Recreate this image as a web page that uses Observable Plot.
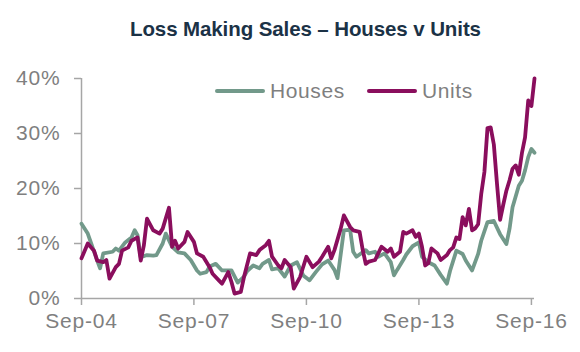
<!DOCTYPE html>
<html>
<head>
<meta charset="utf-8">
<script src="https://cdn.jsdelivr.net/npm/d3@7"></script>
<script src="https://cdn.jsdelivr.net/npm/@observablehq/plot@0.6"></script>
<style>
  html, body { margin: 0; padding: 0; background: #fff; }
  #wrap { position: relative; width: 580px; height: 352px; overflow: hidden; font-family: "Liberation Sans", Arial, sans-serif; }
  #title { position: absolute; left: 0; top: 0; width: 580px; height: 48px; }
  #title span { position: absolute; left: 130px; top: 18px; font-size: 20.5px; font-weight: bold; color: #1b3246; white-space: nowrap; line-height: 21px; letter-spacing: -0.1px; }
  #chart { position: absolute; left: 0; top: 48px; }
  .leg { position: absolute; top: 80px; height: 22px; display: flex; align-items: center; font-size: 21px; color: #7f7f7f; letter-spacing: 0.6px; }
  .leg i { display: inline-block; width: 50px; height: 4px; margin-right: 5px; border-radius: 2px; }
</style>
</head>
<body>
<div id="wrap">
  <div id="title"><span>Loss Making Sales – Houses v Units</span></div>
  <div id="chart"></div>
  <div class="leg" style="left:215px"><i style="background:#72998a"></i>Houses</div>
  <div class="leg" style="left:367px"><i style="background:#8a0e5d"></i>Units</div>
</div>
<script>
const seriesNames = ["Houses", "Units"];
const seriesColors = ["#72998a", "#8a0e5d"];

const houseDates = ["2004-09","2004-11","2005-02","2005-03","2005-04","2005-07","2005-08","2005-09","2005-11","2006-01","2006-02","2006-03","2006-04","2006-06","2006-08","2006-09","2006-11","2006-12","2007-02","2007-04","2007-06","2007-08","2007-10","2007-11","2008-01","2008-02","2008-04","2008-06","2008-09","2008-11","2009-01","2009-02","2009-04","2009-06","2009-07","2009-09","2009-10","2009-12","2010-02","2010-04","2010-06","2010-08","2010-10","2010-12","2011-02","2011-04","2011-06","2011-07","2011-08","2011-09","2011-11","2011-12","2012-01","2012-04","2012-05","2012-07","2012-08","2012-10","2012-12","2013-01","2013-02","2013-04","2013-05","2013-07","2013-09","2013-10","2013-12","2014-02","2014-04","2014-06","2014-07","2014-09","2014-11","2014-12","2015-02","2015-04","2015-05","2015-07","2015-09","2015-11","2016-01","2016-02","2016-03","2016-05","2016-06","2016-07","2016-08","2016-09","2016-10"];
const houseValues = [13.6,11.8,6.9,5.5,8.2,8.5,9.1,8.7,10.2,11.1,12.4,11.5,7.5,7.9,7.8,7.9,10.0,11.8,9.4,8.4,8.2,7.0,5.1,4.5,4.8,5.8,6.3,5.1,5.1,2.9,4.0,5.0,6.0,5.5,6.3,7.0,5.3,5.5,4.0,6.0,6.6,4.2,3.3,4.8,6.2,6.9,5.2,3.7,8.0,12.4,12.5,8.5,7.6,8.8,8.2,8.5,7.6,8.2,6.6,4.2,5.2,7.0,8.0,9.5,10.2,7.6,6.6,6.0,4.3,2.7,5.0,8.7,8.1,6.9,5.1,8.1,10.5,13.9,14.1,11.7,9.9,12.7,16.6,20.5,21.4,23.3,25.7,27.2,26.5];

const unitDates = ["2004-09","2004-11","2005-01","2005-02","2005-04","2005-05","2005-06","2005-08","2005-09","2005-10","2005-12","2006-01","2006-03","2006-04","2006-05","2006-06","2006-08","2006-10","2006-11","2007-01","2007-02","2007-03","2007-04","2007-06","2007-07","2007-09","2007-10","2007-12","2008-02","2008-03","2008-05","2008-06","2008-08","2008-09","2008-10","2008-12","2009-01","2009-03","2009-05","2009-06","2009-08","2009-09","2009-10","2009-12","2010-01","2010-02","2010-04","2010-05","2010-07","2010-09","2010-11","2011-01","2011-02","2011-04","2011-05","2011-06","2011-08","2011-09","2011-11","2011-12","2012-02","2012-03","2012-04","2012-05","2012-07","2012-08","2012-09","2012-11","2012-12","2013-01","2013-03","2013-04","2013-05","2013-07","2013-08","2013-09","2013-10","2013-11","2013-12","2014-01","2014-03","2014-04","2014-06","2014-07","2014-08","2014-09","2014-10","2014-11","2014-12","2015-01","2015-02","2015-03","2015-04","2015-05","2015-06","2015-07","2015-08","2015-09","2015-10","2015-11","2015-12","2016-01","2016-02","2016-03","2016-04","2016-05","2016-06","2016-07","2016-08","2016-09","2016-10"];
const unitValues = [7.3,10.0,8.7,6.9,6.6,7.0,3.6,5.7,6.3,8.7,9.3,10.5,11.1,6.9,9.6,14.5,12.4,11.8,12.7,16.5,9.4,10.5,9.1,10.3,12.1,10.3,8.2,7.6,5.7,4.5,3.3,2.7,4.8,3.0,0.9,1.2,3.9,8.2,7.9,8.8,9.7,10.5,7.6,6.0,5.5,7.0,5.7,1.8,3.9,7.6,5.7,6.7,7.6,9.4,7.3,8.8,12.7,15.1,13.0,12.4,12.1,9.0,6.3,6.7,7.0,8.2,9.4,8.5,9.1,7.6,8.5,12.1,11.8,12.4,11.2,11.8,9.4,6.0,6.4,9.1,8.2,7.0,7.9,8.8,9.3,11.1,10.8,14.8,13.3,16.3,12.4,12.7,13.5,19.0,23.0,31.0,31.1,28.0,21.0,14.3,17.0,19.6,21.5,23.6,24.2,22.5,26.5,29.3,36.0,35.0,40.0];

const yTicks = [0, 10, 20, 30, 40];
const xTickDates = ["2004-09","2007-09","2010-09","2013-09","2016-09"];
const xDomain = ["2004-09","2016-10"];

const parse = d3.utcParse("%Y-%m");
const houses = houseDates.map((d, i) => ({date: parse(d), value: houseValues[i], series: seriesNames[0]}));
const units = unitDates.map((d, i) => ({date: parse(d), value: unitValues[i], series: seriesNames[1]}));
const fmtX = d3.utcFormat("%b-%y");

const chart = Plot.plot({
  width: 580,
  height: 304,
  marginLeft: 81,
  marginRight: 46,
  marginTop: 30,
  marginBottom: 54,
  style: {fontFamily: "'Liberation Sans', Arial, sans-serif", color: "#7f7f7f", background: "transparent", letterSpacing: "0.8px"},
  x: {type: "utc", domain: xDomain.map(parse)},
  y: {domain: [0, 40]},
  marks: [
    Plot.axisY({ticks: yTicks, tickFormat: d => d + "%", tickSize: 7, tickPadding: 14, fontSize: 21, stroke: "#a6a6a6", strokeWidth: 1.5, label: null}),
    Plot.axisX({ticks: xTickDates.map(parse), tickFormat: fmtX, tickSize: 7, tickPadding: 8, fontSize: 21, stroke: "#a6a6a6", strokeWidth: 1.5, label: null}),
    Plot.ruleX([parse(xDomain[0])], {stroke: "#a6a6a6", strokeWidth: 1.5}),
    Plot.ruleY([0], {stroke: "#a6a6a6", strokeWidth: 1.5}),
    Plot.lineY(houses, {x: "date", y: "value", stroke: seriesColors[0], strokeWidth: 3.8, strokeLinejoin: "round"}),
    Plot.lineY(units, {x: "date", y: "value", stroke: seriesColors[1], strokeWidth: 3.8, strokeLinejoin: "round"})
  ]
});
document.getElementById("chart").appendChild(chart);
</script>
</body>
</html>
